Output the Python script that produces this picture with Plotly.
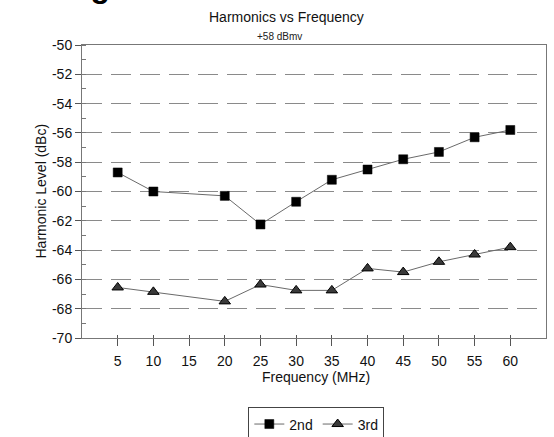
import plotly.graph_objects as go

freq_2nd = [5, 10, 20, 25, 30, 35, 40, 45, 50, 55, 60]
level_2nd = [-58.7, -60.0, -60.3, -62.25, -60.7, -59.2, -58.5, -57.8, -57.3, -56.3, -55.8]
freq_3rd = [5, 10, 20, 25, 30, 35, 40, 45, 50, 55, 60]
level_3rd = [-66.55, -66.85, -67.5, -66.35, -66.75, -66.75, -65.25, -65.5, -64.8, -64.3, -63.8]
x_ticks = [5, 10, 15, 20, 25, 30, 35, 40, 45, 50, 55, 60]
y_ticks = list(range(-70, -49, 2))

FONT = "Liberation Sans, Arial, sans-serif"

fig = go.Figure()
fig.add_trace(go.Scatter(
    x=freq_2nd, y=level_2nd, name="2nd", mode="lines+markers",
    line=dict(color="#6a6a6a", width=1),
    marker=dict(symbol="square", size=9, color="#000000", line=dict(color="#000", width=0.5)),
))
fig.add_trace(go.Scatter(
    x=freq_3rd, y=level_3rd, name="3rd", mode="lines+markers",
    line=dict(color="#6a6a6a", width=1),
    marker=dict(symbol="triangle-up", size=10, color="#3a3a3a", line=dict(color="#000", width=1)),
))
# invisible overlay axis to get ticks crossing the x axis
fig.add_trace(go.Scatter(x=[None], y=[None], xaxis="x2", showlegend=False, hoverinfo="skip"))

fig.update_layout(
    width=554, height=437,
    margin=dict(l=82, r=8, t=45, b=99, autoexpand=False),
    paper_bgcolor="white", plot_bgcolor="white",
    font=dict(family=FONT, color="#111", size=14),
    showlegend=True,
    legend=dict(
        orientation="h", x=0.505, xanchor="center", y=-0.237, yanchor="top",
        bordercolor="#444", borderwidth=1, font=dict(size=14, color="#111"),
        itemwidth=30, tracegroupgap=0,
    ),
    xaxis=dict(
        range=[0, 65], tickvals=x_ticks, ticktext=[str(v) for v in x_ticks],
        showgrid=False, zeroline=False,
        showline=True, linecolor="#777", linewidth=1, mirror=True,
        ticks="outside", ticklen=7, tickcolor="#555", tickwidth=1,
        tickfont=dict(size=14, color="#111"), ticklabelstandoff=3,
    ),
    xaxis2=dict(
        range=[0, 65], overlaying="x", side="bottom", tickvals=x_ticks,
        showticklabels=False, showgrid=False, zeroline=False, showline=False,
        ticks="inside", ticklen=3, tickcolor="#555", tickwidth=1,
    ),
    yaxis=dict(
        range=[-70, -50], tickvals=y_ticks, ticktext=[str(v) for v in y_ticks],
        showgrid=True, gridcolor="#8a8a8a", gridwidth=1, griddash="20px,9px",
        zeroline=False,
        showline=True, linecolor="#777", linewidth=1, mirror=True,
        ticks="outside", ticklen=6, tickcolor="#555", tickwidth=1,
        tickfont=dict(size=14, color="#111"),
        minor=dict(dtick=1, ticks="inside", ticklen=4, tickcolor="#777", showgrid=False),
    ),
    annotations=[
        dict(text="<b>Figure 4: Harmonics Results</b>", xref="paper", yref="paper",
             x=-0.047, y=1.0, xanchor="left", yanchor="bottom", yshift=39, showarrow=False,
             font=dict(size=32, color="#000")),
        dict(text="Harmonics vs Frequency", xref="paper", yref="paper", x=0.44, y=1.0,
             xanchor="center", yanchor="bottom", yshift=18, showarrow=False,
             font=dict(size=14, color="#111")),
        dict(text="+58 dBmv", xref="paper", yref="paper", x=0.425, y=1.0,
             xanchor="center", yanchor="bottom", yshift=1, showarrow=False,
             font=dict(size=10, color="#222")),
        dict(text="Frequency (MHz)", xref="paper", yref="paper", x=0.505, y=0,
             xanchor="center", yanchor="middle", yshift=-39, showarrow=False,
             font=dict(size=14, color="#111")),
        dict(text="Harmonic Level (dBc)", xref="paper", yref="paper", x=0, y=0.5,
             xanchor="center", yanchor="middle", xshift=-42, textangle=-90, showarrow=False,
             font=dict(size=14, color="#111")),
    ],
)

fig.write_html("out.html", config={"displayModeBar": False},
               post_script="document.body.style.margin='0';")
